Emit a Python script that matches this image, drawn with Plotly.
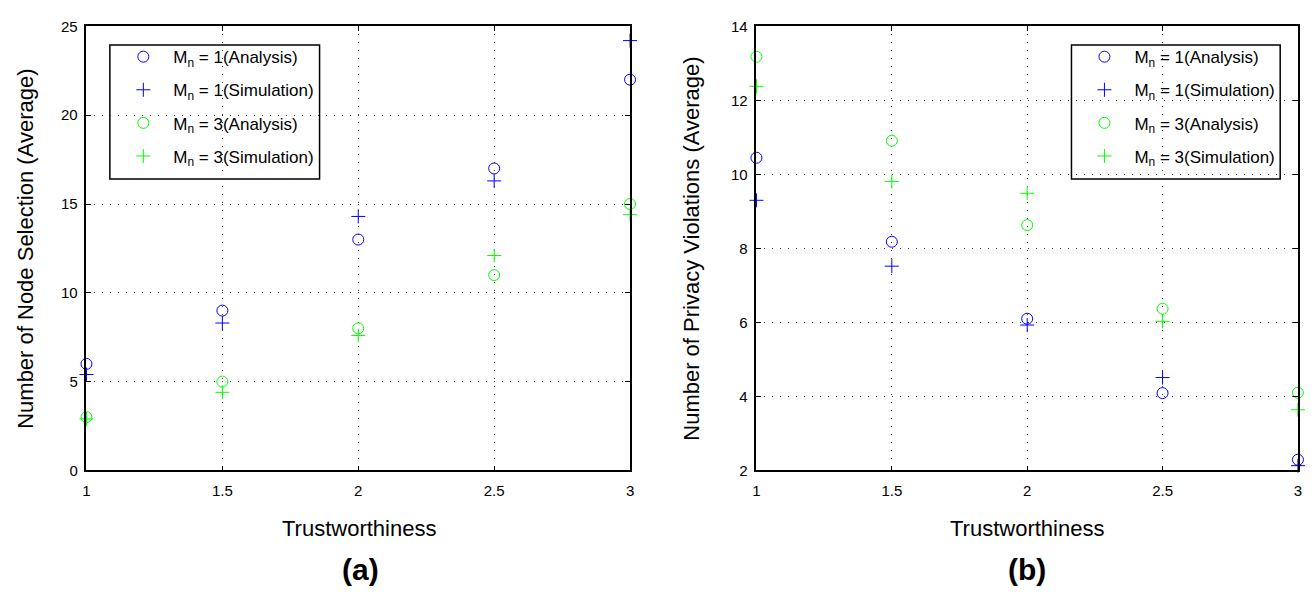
import plotly.graph_objects as go

x = [1, 1.5, 2, 2.5, 3]

# Panel (a): Number of Node Selection (Average)
a_m1_analysis = [6, 9, 13, 17, 22]
a_m1_sim = [5.4, 8.3, 14.3, 16.3, 24.2]
a_m3_analysis = [3, 5, 8, 11, 15]
a_m3_sim = [2.9, 4.4, 7.6, 12.1, 14.4]

# Panel (b): Number of Privacy Violations (Average)
b_m1_analysis = [10.45, 8.18, 6.1, 4.09, 2.29]
b_m1_sim = [9.3, 7.52, 5.93, 4.51, 2.13]
b_m3_analysis = [13.18, 10.91, 8.63, 6.37, 4.1]
b_m3_sim = [12.38, 9.81, 9.49, 6.03, 3.64]

x_ticks = [1, 1.5, 2, 2.5, 3]
x_ticklabels = ["1", "1.5", "2", "2.5", "3"]
a_yticks = [0, 5, 10, 15, 20, 25]
b_yticks = [2, 4, 6, 8, 10, 12, 14]

names = ["M<sub>n</sub> = 1(Analysis)", "M<sub>n</sub> = 1(Simulation)",
         "M<sub>n</sub> = 3(Analysis)", "M<sub>n</sub> = 3(Simulation)"]
BLUE = "rgb(0,0,255)"
GREEN = "rgb(0,255,0)"
colors = [BLUE, BLUE, GREEN, GREEN]
symbols = ["circle-open", "cross-thin-open", "circle-open", "cross-thin-open"]
sizes = [11, 10, 11, 10]

FONT = "Liberation Sans, Arial, sans-serif"
W, H = 1315, 596

fig = go.Figure()

panels = [
    ([a_m1_analysis, a_m1_sim, a_m3_analysis, a_m3_sim], "x", "y", "legend", "a"),
    ([b_m1_analysis, b_m1_sim, b_m3_analysis, b_m3_sim], "x2", "y2", "legend2", "b"),
]
for series, xa, ya, lg, tag in panels:
    for i, (vals, nm, c, s, sz) in enumerate(zip(series, names, colors, symbols, sizes)):
        fig.add_trace(go.Scatter(
            x=x, y=vals, mode="markers", name=nm, xaxis=xa, yaxis=ya, legend=lg,
            legendgroup=f"{tag}{i}", cliponaxis=False,
            marker=dict(symbol=s, size=sz, color=c, line=dict(color=c, width=1)),
        ))

axis_common = dict(
    showline=True, linecolor="black", linewidth=1.5, mirror="ticks",
    ticks="inside", ticklen=5, tickcolor="black",
    showgrid=True, gridcolor="rgb(60,60,60)", griddash="1px,7px", gridwidth=1,
    zeroline=False, tickfont=dict(family=FONT, size=15, color="black"),
)

legend_common = dict(
    xanchor="left", yanchor="top", bordercolor="black", borderwidth=0,
    bgcolor="rgba(0,0,0,0)", font=dict(family=FONT, size=17, color="black"),
    itemwidth=50, tracegroupgap=8,
)

fig.update_layout(
    width=W, height=H,
    margin=dict(l=0, r=0, t=0, b=0),
    paper_bgcolor="white", plot_bgcolor="white",
    font=dict(family=FONT, color="black"),
    xaxis=dict(domain=[0.0631, 0.479], range=[1, 3], tickvals=x_ticks,
               ticktext=x_ticklabels, anchor="y", ticklabelstandoff=6, **axis_common),
    yaxis=dict(domain=[0.203, 0.970], range=[0, 25], tickvals=a_yticks,
               anchor="x", ticklabelstandoff=4, **axis_common),
    xaxis2=dict(domain=[0.5757, 0.990], range=[1, 3], tickvals=x_ticks,
                ticktext=x_ticklabels, anchor="y2", ticklabelstandoff=6, **axis_common),
    yaxis2=dict(domain=[0.203, 0.970], range=[2, 14], tickvals=b_yticks,
                anchor="x2", ticklabelstandoff=4, **axis_common),
    legend=dict(x=(142 - 32) / W, y=1 - 31 / H, **legend_common),
    legend2=dict(x=(1109 - 32) / W, y=1 - 31 / H, **legend_common),
    showlegend=True,
)

# legend frames
for (x0, x1) in [(106.5, 317.5), (1074, 1284)]:
    fig.add_shape(type="rect", xref="paper", yref="paper",
                  x0=x0 / W, x1=x1 / W, y0=1 - 175 / H, y1=1 - 37 / H,
                  line=dict(color="black", width=1.5), fillcolor="white",
                  layer="between")

annotations = [
    dict(text="Number of Node Selection (Average)", x=22 / W, y=1 - 247 / H,
         textangle=-90, font=dict(size=22)),
    dict(text="Number of Privacy Violations (Average)", x=692 / W, y=1 - 247 / H,
         textangle=-90, font=dict(size=22)),
    dict(text="Trustworthiness", x=357 / W, y=1 - 535 / H, font=dict(size=22)),
    dict(text="Trustworthiness", x=1029 / W, y=1 - 535 / H, font=dict(size=22)),
    dict(text="<b>(a)</b>", x=359 / W, y=1 - 577 / H, font=dict(size=30)),
    dict(text="<b>(b)</b>", x=1029 / W, y=1 - 577 / H, font=dict(size=30)),
]
for a in annotations:
    a.update(xref="paper", yref="paper", showarrow=False,
             xanchor="center", yanchor="middle")
    a["font"].update(family=FONT, color="black")
fig.update_layout(annotations=annotations)

fig.write_html("out.html")
